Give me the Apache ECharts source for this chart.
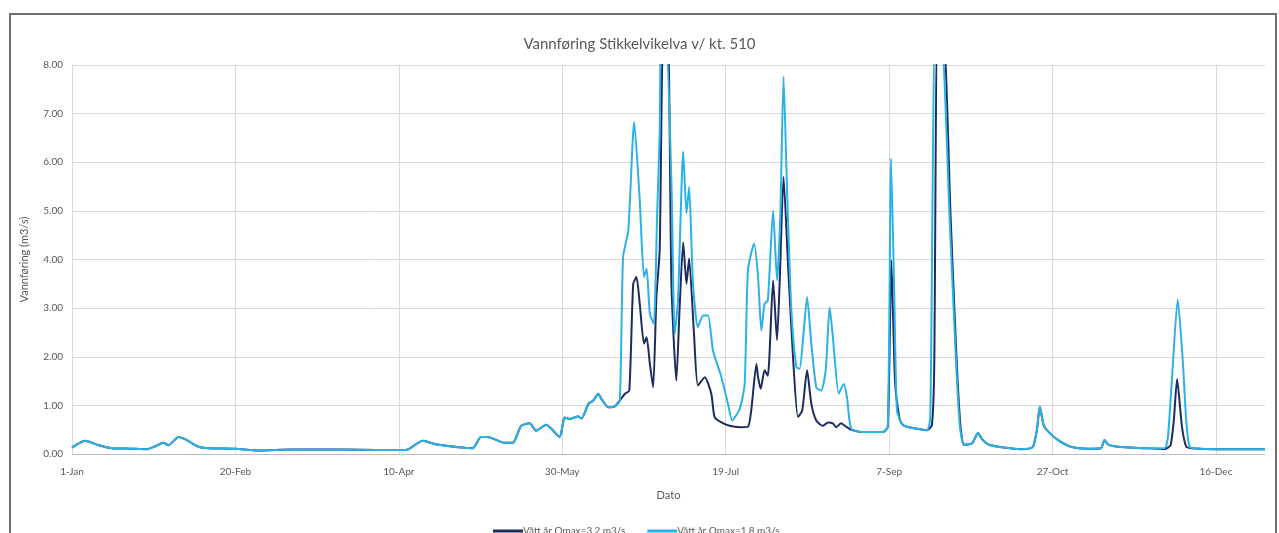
<!DOCTYPE html>
<html>
<head>
<meta charset="utf-8">
<script src="https://cdn.jsdelivr.net/npm/echarts@6/dist/echarts.min.js"></script>
<style>
  html, body { margin: 0; padding: 0; background: #ffffff; }
  #chart { width: 1279px; height: 533px; }
</style>
</head>
<body>
<div id="chart"></div>
<script>
// Day index (0 = 1 Jan, leap year) and flow in m3/s
const tickLabels = ['1-Jan', '20-Feb', '10-Apr', '30-May', '19-Jul', '7-Sep', '27-Oct', '16-Dec'];
const seriesNames = ['Vått år Qmax=3,2 m3/s', 'Vått år Qmax=1,8 m3/s'];

// Common part (both series coincide)
const headFlow = [
  [0, 0.13], [4, 0.27], [8.1, 0.18], [12.2, 0.12], [18, 0.11], [22.9, 0.10], [25.5, 0.16],
  [28, 0.23], [29.5, 0.18], [32.6, 0.35], [34.7, 0.30], [38.7, 0.15], [41.8, 0.12], [50, 0.11],
  [57.1, 0.07], [67.4, 0.09], [82.7, 0.09], [92.9, 0.08], [102.1, 0.08], [107.3, 0.27],
  [111.3, 0.20], [122.6, 0.12], [125.1, 0.35], [127.2, 0.35], [132.3, 0.23], [134.9, 0.23],
  [137.4, 0.58], [140, 0.63], [142, 0.48], [145.1, 0.60], [149.2, 0.35], [150.7, 0.75],
  [152.2, 0.72], [154.8, 0.77], [155.9, 0.73], [158, 1.03], [159.5, 1.10], [161, 1.24],
  [162, 1.13], [164.1, 0.96], [166.1, 0.98], [167.6, 1.10]
];

// Vått år Qmax=3,2 m3/s (dark)
const darkFlow = [
  [169.2, 1.24], [170.5, 1.30], [171.7, 3.50], [172.7, 3.64], [173.7, 3.09], [175, 2.27],
  [175.8, 2.40], [176.8, 1.85], [177.8, 1.37], [178.8, 3.23], [179.8, 4.19], [180.9, 8.6],
  [182.3, 8.6], [183.4, 3.50], [184.9, 1.51], [185.9, 3.00], [187, 4.35], [188, 3.50],
  [188.8, 4.02], [190.3, 2.47], [191.5, 1.41], [193.6, 1.58], [195.6, 1.24], [196.6, 0.76],
  [198.7, 0.65], [201.2, 0.58], [204.3, 0.55], [206.8, 0.56], [207.8, 0.89], [209.4, 1.85],
  [209.9, 1.58], [210.7, 1.34], [211.9, 1.72], [212.9, 1.61], [214.5, 3.57], [215.7, 2.34],
  [216.5, 3.50], [217.7, 5.70], [219.1, 3.85], [220.6, 1.99], [222.1, 0.76], [223.4, 0.89],
  [224.9, 1.72], [226.2, 1.03], [227.7, 0.69], [229.7, 0.58], [231.3, 0.65], [232.8, 0.63],
  [233.8, 0.55], [235.3, 0.63], [236.9, 0.56], [238.4, 0.50], [242, 0.45], [248.1, 0.45],
  [249.6, 0.56], [250.7, 3.98], [251.8, 1.50], [253.2, 0.72], [254.2, 0.60], [255.5, 0.56],
  [261.6, 0.49], [263.1, 0.60], [263.8, 1.80], [264.8, 8.6], [266.6, 8.6], [268.8, 4.90],
  [270.6, 2.00], [271.8, 0.60], [272.9, 0.19], [275.4, 0.22], [277.2, 0.43], [278.5, 0.30],
  [280.5, 0.19], [284.5, 0.14], [290.3, 0.10], [293.9, 0.14], [295.2, 0.49], [296.1, 0.97],
  [297.3, 0.59], [298.7, 0.46], [301.6, 0.29], [305.6, 0.15], [310.8, 0.11], [314.8, 0.12],
  [315.9, 0.29], [316.9, 0.20], [320, 0.15], [328.1, 0.12], [334.3, 0.10], [336.1, 0.18],
  [337.1, 0.69], [338.1, 1.54], [339.6, 0.56], [340.9, 0.15], [342.4, 0.12], [350, 0.10],
  [365, 0.10]
];

// Vått år Qmax=1,8 m3/s (light)
const lightFlow = [
  [168.6, 4.05], [170.2, 4.60], [172, 6.83], [173.7, 5.22], [175, 3.64], [175.8, 3.81],
  [176.8, 2.88], [178, 2.68], [179, 4.88], [179.8, 6.59], [180.3, 8.6], [181.7, 8.6],
  [183.4, 5.56], [184.4, 2.47], [185.4, 3.16], [187, 6.22], [188, 4.95], [188.8, 5.49],
  [190, 3.50], [191.5, 2.61], [193.1, 2.85], [194.6, 2.85], [196.1, 2.13], [198.7, 1.58],
  [200.7, 1.03], [202, 0.69], [204.3, 0.93], [205.8, 1.44], [206.8, 3.78], [208.7, 4.33],
  [209.9, 3.64], [210.9, 2.54], [211.9, 3.09], [212.9, 3.16], [214.5, 5.01], [215.7, 3.57],
  [216.7, 4.88], [217.7, 7.76], [218.8, 5.36], [220.1, 2.95], [221.6, 1.79], [222.6, 1.75],
  [223.8, 2.47], [224.9, 3.23], [226.2, 2.27], [227.7, 1.37], [229.2, 1.30], [230.6, 1.72],
  [231.8, 3.02], [232.8, 2.40], [234.6, 1.24], [236.1, 1.44], [237.1, 1.17], [238.4, 0.52],
  [242, 0.45], [248.1, 0.45], [249.6, 0.56], [250.6, 6.07], [251.6, 3.20], [252.4, 0.89],
  [253.9, 0.62], [255.5, 0.56], [261.6, 0.49], [262.6, 0.77], [264.1, 8.6], [265.9, 8.6],
  [268.6, 4.70], [270.4, 2.00], [271.6, 0.60], [272.9, 0.19], [275.4, 0.22], [277.2, 0.43],
  [278.5, 0.30], [280.5, 0.19], [284.5, 0.14], [290.3, 0.10], [293.9, 0.14], [295.2, 0.49],
  [296.1, 0.97], [297.3, 0.59], [298.7, 0.46], [301.6, 0.29], [305.6, 0.15], [310.8, 0.11],
  [314.8, 0.12], [315.9, 0.29], [316.9, 0.20], [320, 0.15], [328.1, 0.12], [334.3, 0.12],
  [335.3, 0.35], [336.5, 1.51], [338.3, 3.18], [339.9, 1.85], [340.9, 0.69], [341.9, 0.15],
  [343.4, 0.12], [350, 0.10], [365, 0.10]
];

const textColor = '#595959';
const fontFamily = 'Lato, "Open Sans", sans-serif';
const chart = echarts.init(document.getElementById('chart'), null, { renderer: 'canvas' });

chart.setOption({
  backgroundColor: '#ffffff',
  animation: false,
  textStyle: { fontFamily: fontFamily },
  title: {
    text: 'Vannføring Stikkelvikelva v/ kt. 510',
    left: 'center',
    top: 32,
    textStyle: { fontSize: 15, fontWeight: 'normal', color: textColor, fontFamily: fontFamily }
  },
  graphic: [{
    type: 'rect',
    shape: { x: 10, y: 14, width: 1266, height: 540 },
    style: { fill: 'none', stroke: '#6f6f6f', lineWidth: 2 },
    silent: true
  }],
  legend: {
    left: 488,
    top: 521,
    itemGap: 22,
    itemWidth: 30,
    itemHeight: 3,
    icon: 'rect',
    textStyle: { fontSize: 10, color: textColor, fontFamily: fontFamily, padding: [0, 0, 0, -5] },
    data: seriesNames
  },
  grid: { left: 72, right: 14, top: 65, bottom: 79, containLabel: false },
  xAxis: {
    type: 'value',
    min: 0,
    max: 365,
    interval: 50,
    name: 'Dato',
    nameLocation: 'middle',
    nameGap: 36,
    nameTextStyle: { fontSize: 11, color: textColor },
    axisLine: { show: true, lineStyle: { color: '#bfbfbf', width: 1 } },
    axisTick: { show: false },
    axisLabel: {
      fontSize: 10,
      color: textColor,
      margin: 13,
      showMaxLabel: false,
      formatter: function (v) {
        return (v % 50 === 0 && tickLabels[v / 50] !== undefined) ? tickLabels[v / 50] : '';
      }
    },
    splitLine: { show: true, showMaxLine: false, lineStyle: { color: '#d9d9d9', width: 1 } }
  },
  yAxis: {
    type: 'value',
    min: 0,
    max: 8,
    interval: 1,
    name: 'Vannføring (m3/s)',
    nameLocation: 'middle',
    nameGap: 42,
    nameTextStyle: { fontSize: 11, color: textColor },
    axisLine: { show: false },
    axisTick: { show: false },
    axisLabel: {
      fontSize: 10,
      color: textColor,
      margin: 9,
      formatter: function (v) { return v.toFixed(2); }
    },
    splitLine: { show: true, lineStyle: { color: '#d9d9d9', width: 1 } }
  },
  series: [
    {
      name: seriesNames[0],
      type: 'line',
      data: headFlow.concat(darkFlow),
      showSymbol: false,
      smooth: 0.2,
      clip: true,
      color: '#1c2c5e',
      lineStyle: { width: 2, color: '#1c2c5e' }
    },
    {
      name: seriesNames[1],
      type: 'line',
      data: headFlow.concat(lightFlow),
      showSymbol: false,
      smooth: 0.2,
      clip: true,
      color: '#2ab2e6',
      lineStyle: { width: 2, color: '#2ab2e6' }
    }
  ]
});
</script>
</body>
</html>
